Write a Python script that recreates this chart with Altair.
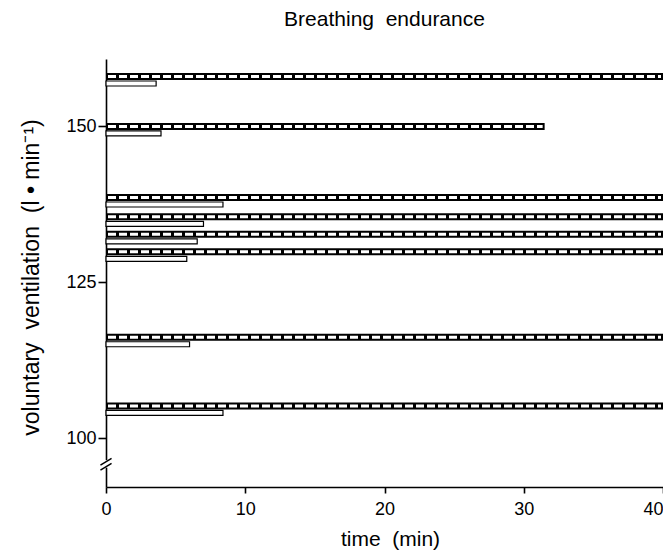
import altair as alt
import pandas as pd

# ventilation level (l/min) of each run
levels = [158, 150, 138.6, 135.5, 132.7, 129.9, 116.2, 105.2]
# endurance time (min) — hatched bars
endurance = [40, 31.5, 40, 40, 40, 40, 40, 40]
# shorter time (min) — open bars
short_time = [3.6, 3.95, 8.4, 7.0, 6.55, 5.8, 6.0, 8.4]

x_ticks = [0, 10, 20, 30, 40]
y_ticks = [100, 125, 150]
break_at = 95.9  # axis break position on the y scale

df = pd.DataFrame({"level": levels, "endurance": endurance, "short": short_time, "start": [0] * len(levels)})

FONT = "Liberation Sans"
NB = "\u00a0"
xs = alt.Scale(domain=[0, 40], nice=False)
ys = alt.Scale(domain=[93, 160], nice=False, zero=False)

x_axis = alt.Axis(values=x_ticks, tickSize=6, labelPadding=7, labelFontSize=18, grid=False,
                  labelAlign={"condition": {"test": "datum.value == 40", "value": "right"}, "value": "center"},
                  title=f"time{NB}{NB}(min)", titleFontSize=21, titleFontWeight="normal",
                  titleX=284, titleY=58, titleBaseline="alphabetic", titleAnchor="middle")
y_axis = alt.Axis(values=y_ticks, tickSize=8, labelPadding=2, labelFontSize=18, grid=False,
                  title=f"voluntary{NB} ventilation{NB}{NB}(l{NB}•{NB}min⁻¹)", titleFontSize=23,
                  titleFontWeight="normal",
                  titleX=-68, titleY=218, titleAngle=-90, titleBaseline="alphabetic", titleAnchor="middle")

base = alt.Chart(df)

open_bars = base.mark_bar(orient="horizontal", size=5, fill="white", stroke="black",
                          strokeWidth=1.2, yOffset=7).encode(
    x=alt.X("start:Q", scale=xs, axis=x_axis),
    x2="short:Q",
    y=alt.Y("level:Q", scale=ys, axis=y_axis),
)

hatch_outline = base.mark_rule(color="black", strokeWidth=7).encode(
    x=alt.X("start:Q", scale=xs), x2="endurance:Q", y=alt.Y("level:Q", scale=ys)
)
hatch_fill = base.mark_rule(color="white", strokeWidth=3, strokeDash=[8, 3],
                            xOffset=2, x2Offset=-2).encode(
    x=alt.X("start:Q", scale=xs), x2="endurance:Q", y=alt.Y("level:Q", scale=ys)
)

brk = pd.DataFrame({"b": [break_at]})
gap = alt.Chart(brk).mark_rule(color="white", strokeWidth=4).encode(
    x=alt.datum(0, scale=xs), y=alt.Y("y1:Q", scale=ys), y2="y2:Q"
).transform_calculate(y1="datum.b - 0.6", y2="datum.b + 0.6")
slash1 = alt.Chart(brk).mark_rule(color="black", strokeWidth=1.5).encode(
    x=alt.X("x1:Q", scale=xs), x2="x2:Q", y=alt.Y("y1:Q", scale=ys), y2="y2:Q"
).transform_calculate(x1="-0.4", x2="0.4", y1="datum.b - 1.0", y2="datum.b + 0.1")
slash2 = alt.Chart(brk).mark_rule(color="black", strokeWidth=1.5).encode(
    x=alt.X("x1:Q", scale=xs), x2="x2:Q", y=alt.Y("y1:Q", scale=ys), y2="y2:Q"
).transform_calculate(x1="-0.4", x2="0.4", y1="datum.b - 0.2", y2="datum.b + 0.9")

chart = alt.layer(open_bars, hatch_outline, hatch_fill, gap, slash1, slash2).properties(
    width=557, height=428,
    autosize=alt.AutoSizeParams(type="none"),
    padding={"left": 98, "top": 51, "right": 0, "bottom": 63},
    title=alt.TitleParams(f"Breathing{NB}{NB}endurance", fontSize=21, font=FONT, fontWeight="normal",
                          anchor="middle", baseline="alphabetic", offset=12, frame="group", color="black"),
).configure(background="white").configure_view(stroke=None).configure_axis(
    grid=False, domainColor="black", domainWidth=1.6, tickColor="black", tickWidth=1.6,
    labelColor="black", titleColor="black", labelFont=FONT, titleFont=FONT,
)

chart.save("out.html", embed_options={"renderer": "svg", "actions": False})
